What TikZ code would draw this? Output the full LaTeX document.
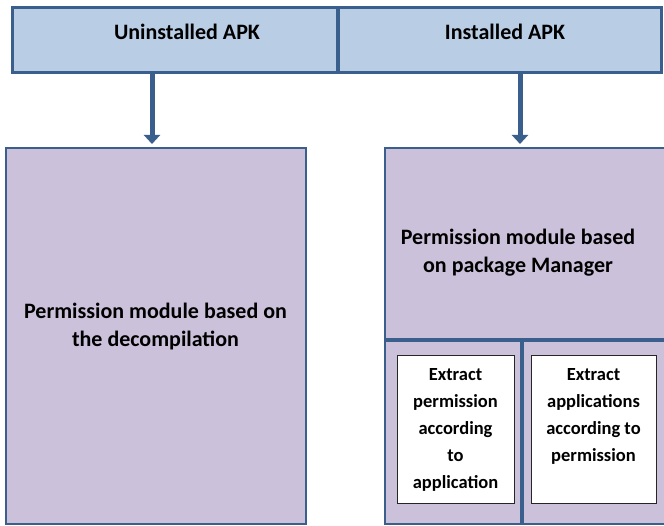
\documentclass[tikz,border=0pt]{standalone}
\usepackage{fontspec}
\setmainfont{Carlito}
\usetikzlibrary{arrows.meta}
\definecolor{bord}{HTML}{3A5F8C}
\definecolor{topfill}{HTML}{B9CDE5}
\definecolor{lowfill}{HTML}{CCC1DA}
\tikzset{
  topbox/.style={draw=bord, fill=topfill, line width=3pt, inner sep=0pt, outer sep=0pt},
  lowbox/.style={draw=bord, fill=lowfill, line width=2.5pt, inner sep=0pt, outer sep=0pt},
  whitebox/.style={draw=black!85, fill=white, line width=1pt, inner sep=0pt, outer sep=0pt},
  divider/.style={draw=bord, line width=4pt},
  flow/.style={draw=bord, line width=5pt, -{Triangle[width=16pt,length=9pt]}, shorten >=4pt},
  bigtext/.style={font=\fontsize{22}{28}\selectfont\bfseries, text=black, align=center, inner sep=0pt},
  smalltext/.style={font=\fontsize{18.5}{27}\selectfont\bfseries, text=black, align=center, inner sep=0pt, anchor=north}
}
\begin{document}
\begin{tikzpicture}[x=1pt,y=-1pt]
\useasboundingbox (0,0) rectangle (664,526);
\fill[white] (0,0) rectangle (664,526);
% top bar
\node[topbox, minimum width=326pt, minimum height=65pt] (uninst) at (175,40) {};
\node[topbox, minimum width=323pt, minimum height=65pt] (inst) at (499.5,40) {};
\draw[divider] (uninst.north east) -- (uninst.south east);
\node[bigtext] (tU) at (187,32) {Uninstalled APK};
\node[bigtext] (tI) at (505,32) {Installed APK};
% lower boxes
\node[lowbox, minimum width=300pt, minimum height=376pt] (dec) at (156,336) {};
\node[lowbox, minimum width=283pt, minimum height=376pt] (pm) at (526.5,336) {};
\node[bigtext] (tD) at (155.5,327) {Permission module based on\\the decompilation};
\node[bigtext] (tP) at (518,253) {Permission module based\\on package Manager};
% dividers in right box
\coordinate (hd) at (0,340);
\coordinate (vd) at (522,0);
\draw[divider] (pm.west |- hd) -- (pm.east |- hd);
\draw[divider] (vd |- hd) -- (vd |- pm.south);
% inner white boxes
\node[whitebox, minimum width=117pt, minimum height=147pt] (ex1) at (455.5,429.5) {};
\node[whitebox, minimum width=125pt, minimum height=147pt] (ex2) at (593.5,429.5) {};
\node[smalltext] (tE1) at (455.5,368) {Extract\\permission\\according\\to\\application};
\node[smalltext] (tE2) at (593.5,368) {Extract\\applications\\according to\\permission};
% arrows
\coordinate (aL) at (152,0);
\coordinate (aR) at (520,0);
\draw[flow] (uninst.south -| aL) -- (dec.north -| aL);
\draw[flow] (inst.south -| aR) -- (pm.north -| aR);
\end{tikzpicture}
\end{document}
